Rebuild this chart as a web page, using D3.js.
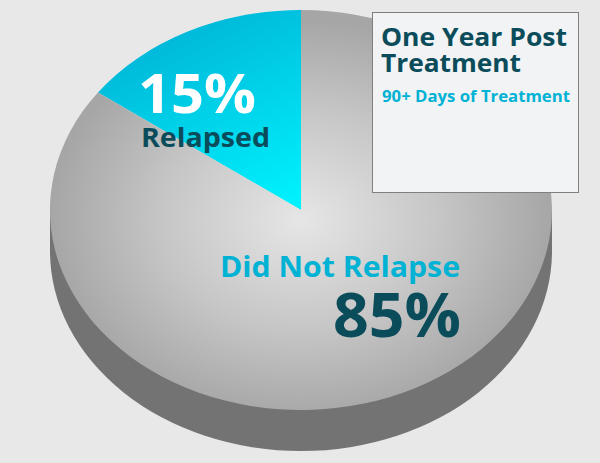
<!DOCTYPE html>
<html><head><meta charset="utf-8">
<script src="https://cdn.jsdelivr.net/npm/d3@7"></script>
<style>html,body{margin:0;padding:0;background:#e8e8e8;}svg{display:block;}</style>
</head><body>
<script>
const categories = ["Relapsed", "Did Not Relapse"];
const values = [15, 85];
const pctLabels = ["15%", "85%"];
const title = ["One Year Post", "Treatment"];
const subtitle = "90+ Days of Treatment";

const W = 600, H = 463;
const cx = 301, cy = 210, rx = 251, ry = 200, depth = 41;
const font = "'Open Sans', 'Noto Sans', sans-serif";

const svg = d3.select("body").append("svg").attr("width", W).attr("height", H);
svg.append("rect").attr("width", W).attr("height", H).attr("fill", "#e8e8e8");

const defs = svg.append("defs");
const cg = defs.append("linearGradient").attr("id", "cyanG")
  .attr("gradientUnits", "userSpaceOnUse")
  .attr("x1", -0.6).attr("y1", -1).attr("x2", 0).attr("y2", 0);
cg.append("stop").attr("offset", 0).attr("stop-color", "#00b0d4");
cg.append("stop").attr("offset", 1).attr("stop-color", "#00f4ff");

const gg = defs.append("radialGradient").attr("id", "grayG")
  .attr("gradientUnits", "userSpaceOnUse")
  .attr("cx", 0).attr("cy", 0.05).attr("r", 1.0);
gg.append("stop").attr("offset", 0).attr("stop-color", "#e6e6e6");
gg.append("stop").attr("offset", 0.55).attr("stop-color", "#c6c6c6");
gg.append("stop").attr("offset", 1).attr("stop-color", "#a6a6a6");

// side of the pie
const sx = d3.scaleLinear().domain([-1, 1]).range([cx - rx, cx + rx]);
const sy = d3.scaleLinear().domain([-1, 1]).range([cy - ry, cy + ry]);
svg.append("path")
  .attr("d", `M${sx(-1)},${sy(0)} L${sx(-1)},${sy(0) + depth} A${rx},${ry} 0 0 0 ${sx(1)},${sy(0) + depth} L${sx(1)},${sy(0)} Z`)
  .attr("fill", "#737373");

const pie = d3.pie().sort(null).startAngle(0).endAngle(-2 * Math.PI);
const arcs = pie(values);
const arc = d3.arc().innerRadius(0).outerRadius(1);

const g = svg.append("g").attr("transform", `translate(${cx},${cy}) scale(${rx},${ry})`);
g.selectAll("path").data(arcs).join("path")
  .attr("d", arc)
  .attr("fill", (d, i) => i === 0 ? "url(#cyanG)" : "url(#grayG)");

function label(x, y, size, color, txt, len, anchor) {
  return svg.append("text").attr("x", x).attr("y", y)
    .attr("text-anchor", anchor || "start")
    .attr("font-family", font).attr("font-weight", 700).attr("font-size", size)
    .attr("fill", color)
    .attr("textLength", len).attr("lengthAdjust", "spacingAndGlyphs")
    .text(txt);
}

// slice labels
label(138, 113, 54, "#ffffff", pctLabels[0], 118);
label(141, 147, 27, "#0b4c5b", categories[0], 129);
label(220, 277, 28, "#00b2d4", categories[1], 240);
label(333, 337, 61, "#0b4c5b", pctLabels[1], 128);

// title box
svg.append("rect").attr("x", 372.5).attr("y", 12.5).attr("width", 206).attr("height", 180)
  .attr("fill", "#f2f3f5").attr("stroke", "#7f7f7f").attr("stroke-width", 1);
label(381, 46, 25, "#0b4c5b", title[0], 186);
label(381, 72, 25, "#0b4c5b", title[1], 140);
label(382, 102, 16, "#00b2d4", subtitle, 188);
</script>
</body></html>
